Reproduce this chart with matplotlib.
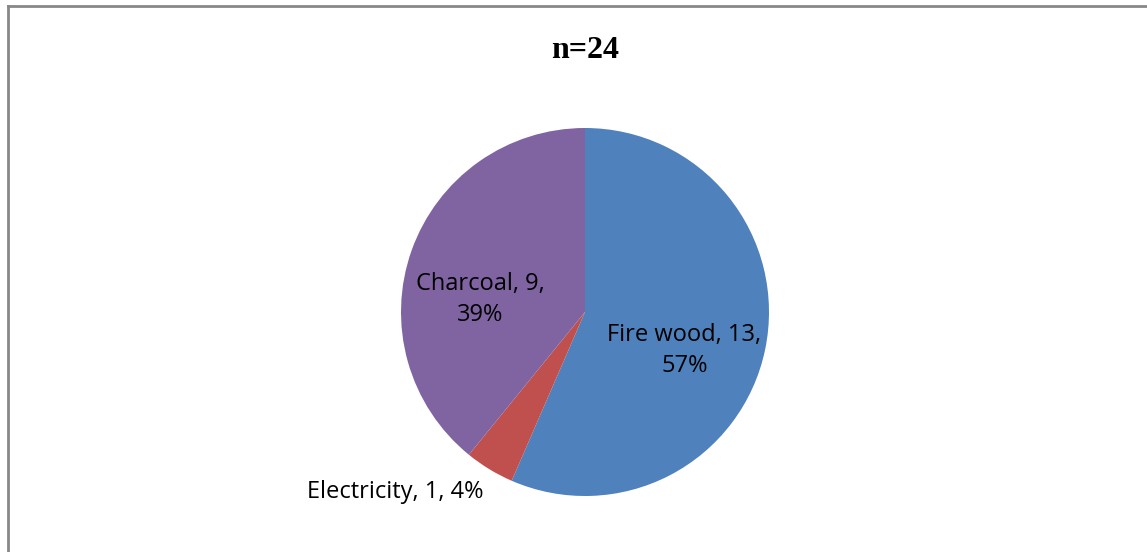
import matplotlib.pyplot as plt
from matplotlib.lines import Line2D

# data
labels = ['Fire wood', 'Electricity', 'Charcoal']
values = [13, 1, 9]
colors = ['#4F81BD', '#C0504D', '#8064A2']
title = 'n=24'

W, H = 1147, 552
fig = plt.figure(figsize=(W / 100, H / 100), dpi=100)

# outer frame (only top and left edges are visible in the crop)
fig.add_artist(Line2D([8 / W, 1], [1 - 6 / H, 1 - 6 / H], color='#888888', lw=2))
fig.add_artist(Line2D([8 / W, 8 / W], [0, 1 - 6 / H], color='#888888', lw=2))

# pie axes: centre (585, 312), radius 184 px
cx, cy, r = 585, 312, 184
ax = fig.add_axes([(cx - r) / W, (H - cy - r) / H, 2 * r / W, 2 * r / H])
ax.pie(values, colors=colors, startangle=90, counterclock=False,
       wedgeprops=dict(linewidth=0))
ax.set_xlim(-1, 1)
ax.set_ylim(-1, 1)
ax.set_aspect('equal')
ax.axis('off')

total = sum(values)
pct = [round(v / total * 100) for v in values]
txt = [f'{l}, {v},\n{p}%' for l, v, p in zip(labels, values, pct)]
txt[1] = f'{labels[1]}, {values[1]}, {pct[1]}%'
pos = [(0.54, -0.21), (-1.03, -0.98), (-0.57, 0.07)]
for t, (x, y) in zip(txt, pos):
    ax.text(x, y, t, ha='center', va='center', fontsize=17,
            family='Open Sans', linespacing=1.4, clip_on=False)

fig.text(cx / W, 1 - 50 / H, title, ha='center', va='center', fontsize=23,
         fontweight='bold', family='Liberation Serif')

fig.savefig('out.png', dpi=100)
